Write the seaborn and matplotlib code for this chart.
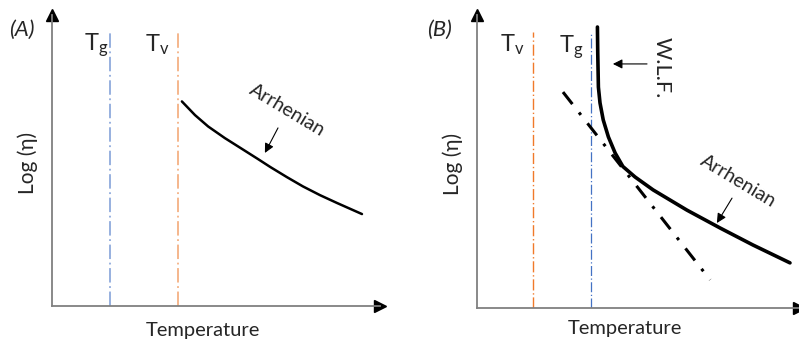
import seaborn as sns
import matplotlib.pyplot as plt
import pandas as pd

# ---- data (arbitrary units, axes span 0..100) ----
# Panel A: Arrhenian branch above Tv
a_temp = [39.6, 43.6, 47.6, 52.7, 57.9, 62.8, 66.5, 71.6, 76.5, 81.7, 86.9, 94.5]
a_logeta = [70.3, 65.6, 61.7, 57.7, 54.0, 50.5, 47.8, 44.3, 41.1, 38.1, 35.4, 31.6]
a_tg, a_tv = 17.7, 38.4

# Panel B: W.L.F. + Arrhenian curve, Arrhenian extrapolation
b_temp = [37.4, 37.5, 37.7, 38.2, 39.2, 40.8, 42.9, 45.3, 49.1, 54.7, 65.2, 75.5,
          85.7, 97.2]
b_logeta = [95.9, 87.0, 75.4, 70.0, 64.2, 58.4, 52.9, 48.3, 44.7, 40.3, 33.4, 27.3,
            21.5, 15.4]
b_ext_temp = [26.7, 72.4]
b_ext_logeta = [73.7, 9.6]
b_tv, b_tg = 17.4, 35.4

sns.set_style("white")
plt.rcParams["font.family"] = ["Lato", "DejaVu Sans"]
plt.rcParams["mathtext.fontset"] = "custom"
plt.rcParams["mathtext.rm"] = "Lato"

FS = 14
AXIS_GREY = "#808080"
DASHDOT = (0, (8, 2, 1, 2))

fig = plt.figure(figsize=(7.99, 3.41), dpi=100)
ax_a = fig.add_axes([0.0651, 0.1026, 0.4105, 0.8534])
ax_b = fig.add_axes([0.5970, 0.0968, 0.4030, 0.8592])


def style_axes(ax, label_y):
    ax.set_xlim(0, 100)
    ax.set_ylim(0, 100)
    ax.set_xticks([])
    ax.set_yticks([])
    ax.set_xlabel("")
    ax.set_ylabel("")
    for side in ["top", "right"]:
        ax.spines[side].set_visible(False)
    for side in ["left", "bottom"]:
        ax.spines[side].set_color(AXIS_GREY)
        ax.spines[side].set_linewidth(1.3)
    # arrow heads on the axes
    ax.plot(1, 0, ">", color="black", ms=8, transform=ax.transAxes, clip_on=False)
    ax.plot(0, 1, "^", color="black", ms=8, transform=ax.transAxes, clip_on=False)
    ax.text(0.46, label_y, "Temperature", transform=ax.transAxes, ha="center",
            va="center", fontsize=14.5)
    ax.text(-0.075, 0.49, "Log (η)", transform=ax.transAxes, ha="center",
            va="center", rotation=90, fontsize=15)


def pointer(ax, tip, tail):
    ax.annotate("", xy=tip, xytext=tail,
                arrowprops=dict(arrowstyle="-|>", color="black", lw=0.8,
                                mutation_scale=14, shrinkA=0, shrinkB=0))


# ===================== PANEL A =====================
ax = ax_a
ax.vlines(a_tg, 0, 94.5, color="#8FAADC", lw=1.3, linestyles=DASHDOT)
ax.vlines(a_tv, 0, 94.5, color="#F4B183", lw=1.3, linestyles=DASHDOT)
sns.lineplot(data=pd.DataFrame({"T": a_temp, "eta": a_logeta}), x="T", y="eta",
             ax=ax, color="black", lw=1.8, sort=False)
style_axes(ax, -0.085)
ax.text(71.6, 67.4, "Arrhenian", rotation=-31, ha="center", va="center", fontsize=FS)
pointer(ax, (64.9, 52.6), (68.9, 61.2))
ax.text(13.4, 89.7, r"$\mathregular{T_{g}}$", ha="center", va="center", fontsize=17)
ax.text(32.0, 89.7, r"$\mathregular{T_{v}}$", ha="center", va="center", fontsize=17)
ax.text(-9.1, 94.8, "(A)", ha="center", va="center", fontsize=16, style="italic",
        clip_on=False)

# ===================== PANEL B =====================
ax = ax_b
ax.vlines(b_tv, 0, 94.2, color="#F07A2A", lw=1.0, linestyles=DASHDOT)
ax.vlines(b_tg, 0, 94.2, color="#4472C4", lw=0.9, linestyles=DASHDOT)
ax.plot(b_ext_temp, b_ext_logeta, color="black", lw=2.2,
        linestyle=(0, (5, 3.5, 1, 3.5)))
sns.lineplot(data=pd.DataFrame({"T": b_temp, "eta": b_logeta}), x="T", y="eta",
             ax=ax, color="black", lw=2.6, sort=False)
style_axes(ax, -0.07)
ax.text(57.5, 81.9, "W.L.F.", rotation=-90, ha="center", va="center", fontsize=15.5)
pointer(ax, (42.2, 83.3), (52.8, 83.3))
ax.text(81.1, 43.3, "Arrhenian", rotation=-31, ha="center", va="center", fontsize=FS)
pointer(ax, (74.5, 29.0), (79.2, 37.5))
ax.text(10.9, 89.8, r"$\mathregular{T_{v}}$", ha="center", va="center", fontsize=17)
ax.text(29.2, 89.1, r"$\mathregular{T_{g}}$", ha="center", va="center", fontsize=17)
ax.text(-11.5, 94.9, "(B)", ha="center", va="center", fontsize=16, style="italic",
        clip_on=False)

fig.savefig("out.png", dpi=100)
